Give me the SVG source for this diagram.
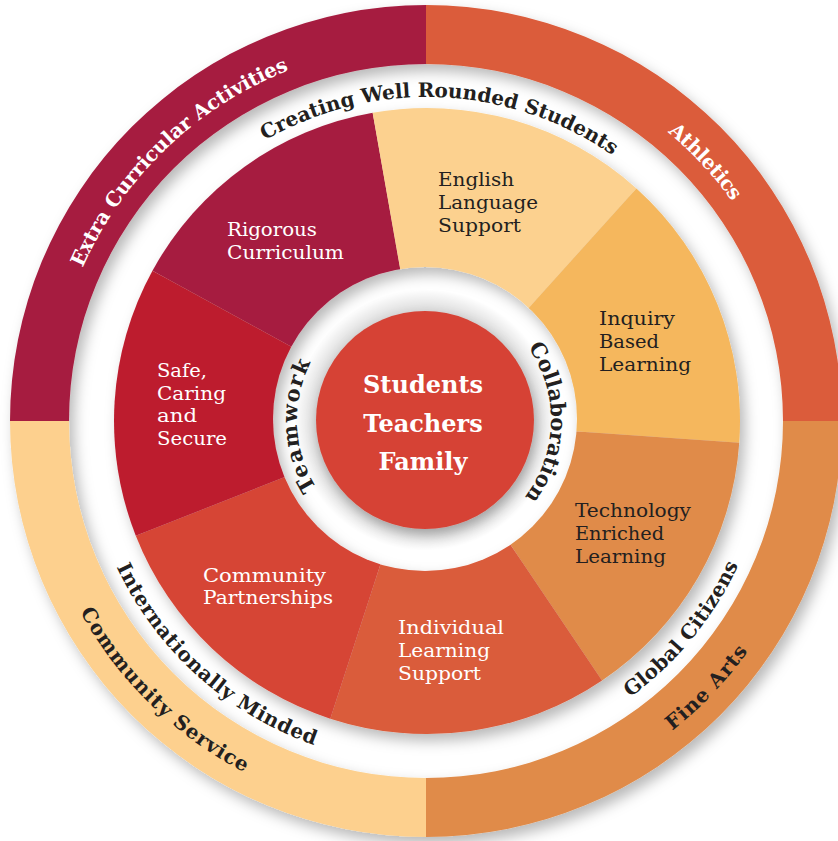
<svg xmlns="http://www.w3.org/2000/svg" width="838" height="841" viewBox="0 0 838 841">
<defs>
  <filter id="shadow" x="-10%" y="-10%" width="125%" height="125%">
    <feDropShadow dx="5" dy="7" stdDeviation="7" flood-color="#000" flood-opacity="0.28"/>
  </filter>
  <filter id="shadowS" x="-20%" y="-20%" width="150%" height="150%">
    <feDropShadow dx="2" dy="6" stdDeviation="6" flood-color="#000" flood-opacity="0.25"/>
  </filter>
  <mask id="pieHole" maskUnits="userSpaceOnUse" x="0" y="0" width="838" height="841">
    <rect x="0" y="0" width="838" height="841" fill="#fff"/>
    <circle cx="425" cy="419" r="152" fill="#000"/>
  </mask>
  <radialGradient id="innerShade" gradientUnits="userSpaceOnUse" cx="425" cy="420" r="152">
    <stop offset="0.70" stop-color="#000" stop-opacity="0.16"/>
    <stop offset="0.86" stop-color="#000" stop-opacity="0"/>
    <stop offset="1" stop-color="#000" stop-opacity="0"/>
  </radialGradient>
  <path id="pCreating" d="M265.0,140.4 A324,324 0 0 1 707.6,259.0"/>
  <path id="pExtra" d="M82.6,267.7 A377,377 0 0 1 492.5,49.7"/>
  <path id="pAthletics" d="M667.7,132.1 A376,376 0 0 1 797.3,355.7"/>
  <path id="pFine" d="M672.3,730.6 A395,395 0 0 0 816.0,489.6"/>
  <path id="pCommServ" d="M80.0,611.8 A396,396 0 0 0 427,817"/>
  <path id="pIntl" d="M116.6,567.0 A343,343 0 0 0 427,764"/>
  <path id="pGlobal" d="M630.1,697.4 A343,343 0 0 0 770,421"/>
  <path id="pTeam" d="M316.5,487.8 A128,128 0 0 1 361,309.1"/>
  <path id="pCollab" d="M528.0,347.4 A126,126 0 0 1 488,529.1"/>
</defs>
<style>
  .t { font-family: 'DejaVu Serif', 'Liberation Serif', serif; font-size: 20px; }
  .s { font-size: 18.5px; }
  .b { font-weight: 700; }
  .w { fill: #ffffff; }
  .d { fill: #231F20; }
  .c { font-size: 24px; text-anchor: middle; }
  .r { font-size: 21px; }
</style>
<rect x="0" y="0" width="838" height="841" fill="#ffffff"/>

<g id="outer-ring" filter="url(#shadow)">
  <g id="ring-extra-curricular"><path d="M10,421 A416,416 0 0 1 426,5 L426,64 A357,357 0 0 0 69,421 Z" fill="#A61E40"/></g>
  <g id="ring-athletics"><path d="M426,5 A416,416 0 0 1 842,421 L783,421 A357,357 0 0 0 426,64 Z" fill="#DB5B3A"/></g>
  <g id="ring-fine-arts"><path d="M842,421 A416,416 0 0 1 426,837 L426,778 A357,357 0 0 0 783,421 Z" fill="#E08B49"/></g>
  <g id="ring-community-service"><path d="M426,837 A416,416 0 0 1 10,421 L69,421 A357,357 0 0 0 426,778 Z" fill="#FDD08E"/></g>
</g>

<g id="pie" filter="url(#shadow)">
  <g mask="url(#pieHole)">
    <g id="slice-rigorous"><path d="M427,421 L152.45,270.69 A313,313 0 0 1 372.65,112.75 Z" fill="#A61E40"/></g>
    <g id="slice-english"><path d="M427,421 L372.65,112.75 A313,313 0 0 1 636.44,188.40 Z" fill="#FCD18F"/></g>
    <g id="slice-inquiry"><path d="M427,421 L636.44,188.40 A313,313 0 0 1 739.24,442.83 Z" fill="#F5B75D"/></g>
    <g id="slice-technology"><path d="M427,421 L739.24,442.83 A313,313 0 0 1 602.03,680.49 Z" fill="#E08B49"/></g>
    <g id="slice-individual"><path d="M427,421 L602.03,680.49 A313,313 0 0 1 330.28,718.68 Z" fill="#DA5B3A"/></g>
    <g id="slice-community-partnerships"><path d="M427,421 L330.28,718.68 A313,313 0 0 1 135.78,535.71 Z" fill="#D64435"/></g>
    <g id="slice-safe"><path d="M427,421 L135.78,535.71 A313,313 0 0 1 152.45,270.69 Z" fill="#BD1F2F"/></g>
  </g>
</g>

<circle cx="425" cy="420" r="152" fill="url(#innerShade)"/>

<g id="core" filter="url(#shadowS)">
  <circle cx="425" cy="420" r="109" fill="#D64336"/>
</g>

<g id="labels-pie">
  <text class="t s w" x="227" y="236"><tspan x="227" textLength="90" lengthAdjust="spacingAndGlyphs">Rigorous</tspan><tspan x="227" dy="22.5" textLength="117" lengthAdjust="spacingAndGlyphs">Curriculum</tspan></text>
  <text class="t s d" x="438" y="186"><tspan x="438" textLength="76" lengthAdjust="spacingAndGlyphs">English</tspan><tspan x="438" dy="23" textLength="100" lengthAdjust="spacingAndGlyphs">Language</tspan><tspan x="438" dy="23" textLength="83" lengthAdjust="spacingAndGlyphs">Support</tspan></text>
  <text class="t s d" x="599" y="325"><tspan x="599" textLength="76" lengthAdjust="spacingAndGlyphs">Inquiry</tspan><tspan x="599" dy="23" textLength="60" lengthAdjust="spacingAndGlyphs">Based</tspan><tspan x="599" dy="23" textLength="92" lengthAdjust="spacingAndGlyphs">Learning</tspan></text>
  <text class="t s d" x="575" y="517"><tspan x="575" textLength="116" lengthAdjust="spacingAndGlyphs">Technology</tspan><tspan x="575" dy="23" textLength="89" lengthAdjust="spacingAndGlyphs">Enriched</tspan><tspan x="575" dy="23" textLength="91" lengthAdjust="spacingAndGlyphs">Learning</tspan></text>
  <text class="t s w" x="398" y="634"><tspan x="398" textLength="106" lengthAdjust="spacingAndGlyphs">Individual</tspan><tspan x="398" dy="23" textLength="92" lengthAdjust="spacingAndGlyphs">Learning</tspan><tspan x="398" dy="23" textLength="83" lengthAdjust="spacingAndGlyphs">Support</tspan></text>
  <text class="t s w" x="203" y="581.5"><tspan x="203" textLength="123" lengthAdjust="spacingAndGlyphs">Community</tspan><tspan x="203" dy="22.5" textLength="130" lengthAdjust="spacingAndGlyphs">Partnerships</tspan></text>
  <text class="t s w" x="157" y="377"><tspan x="157" textLength="50" lengthAdjust="spacingAndGlyphs">Safe,</tspan><tspan x="157" dy="22.5" textLength="69" lengthAdjust="spacingAndGlyphs">Caring</tspan><tspan x="157" dy="22.5" textLength="40" lengthAdjust="spacingAndGlyphs">and</tspan><tspan x="157" dy="22.5" textLength="70" lengthAdjust="spacingAndGlyphs">Secure</tspan></text>
</g>

<g id="labels-core">
  <text class="t b w c" x="423" y="393"><tspan x="423">Students</tspan><tspan x="423" dy="39">Teachers</tspan><tspan x="423" dy="38">Family</tspan></text>
</g>

<g id="labels-curved">
  <text class="t b d"><textPath href="#pCreating" textLength="367">Creating Well Rounded Students</textPath></text>
  <text class="t b w"><textPath href="#pExtra" textLength="293">Extra Curricular Activities</textPath></text>
  <text class="t b w"><textPath href="#pAthletics" textLength="95">Athletics</textPath></text>
  <text class="t b d"><textPath href="#pFine" textLength="110">Fine Arts</textPath></text>
  <text class="t b d"><textPath href="#pCommServ" textLength="233">Community Service</textPath></text>
  <text class="t b d"><textPath href="#pIntl" textLength="273">Internationally Minded</textPath></text>
  <text class="t b d"><textPath href="#pGlobal" textLength="173">Global Citizens</textPath></text>
  <text class="t b d r"><textPath href="#pTeam" textLength="131">Teamwork</textPath></text>
  <text class="t b d r"><textPath href="#pCollab" textLength="160">Collaboration</textPath></text>
</g>
</svg>
